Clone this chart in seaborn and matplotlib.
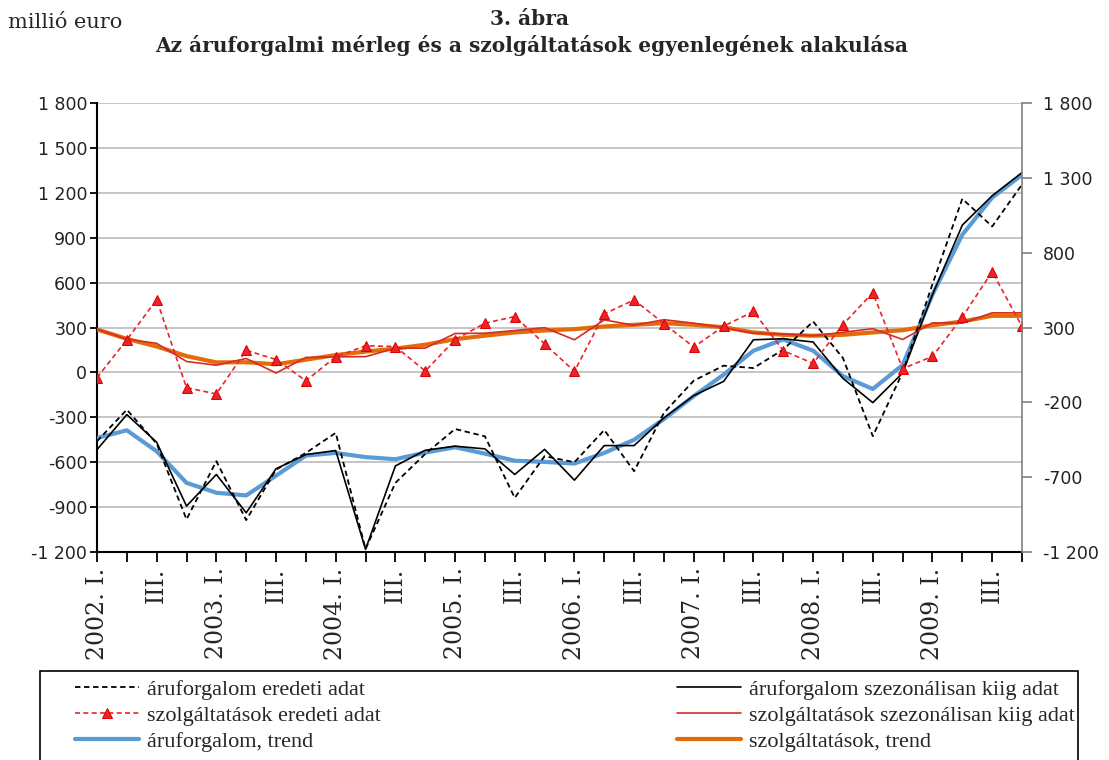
import matplotlib

matplotlib.use("Agg")

import matplotlib.pyplot as plt
import numpy as np
import pandas as pd
import seaborn as sns
from matplotlib.patches import Rectangle

# negyedéves adatok, 2002. I. - 2009. IV.
QUARTERS = [f"{y}. {q}" for y in range(2002, 2010) for q in ("I.", "II.", "III.", "IV.")]
TICK_LABELS = [
    "2002. I.", "", "III.", "", "2003. I.", "", "III.", "", "2004. I.", "", "III.", "",
    "2005. I.", "", "III.", "", "2006. I.", "", "III.", "", "2007. I.", "", "III.", "",
    "2008. I.", "", "III.", "", "2009. I.", "", "III.", "",
]

ARU_EREDETI = [
    -460, -249, -476, -982, -593, -987, -649, -538, -404, -1180, -738, -545,
    -378, -427, -838, -560, -600, -385, -660, -270, -55, 45, 29, 153,
    340, 96, -426, 0, 590, 1160, 975, 1255,
]
ARU_SZEZ = [
    -516, -282, -467, -893, -682, -938, -644, -549, -522, -1182, -625, -520,
    -493, -511, -682, -514, -720, -489, -489, -304, -155, -60, 218, 225,
    203, -40, -202, -4, 520, 984, 1180, 1335,
]
ARU_TREND = [
    -438, -387, -527, -738, -804, -822, -690, -556, -538, -566, -580, -536,
    -500, -543, -590, -598, -609, -538, -450, -312, -158, -15, 145, 220,
    145, -25, -111, 50, 520, 920, 1168, 1320,
]
SZOLG_EREDETI = [
    -35, 218, 486, -102, -144, 148, 86, -56, 104, 178, 173, 9,
    218, 329, 373, 191, 7, 391, 484, 326, 169, 309, 407, 145,
    60, 320, 533, 25, 107, 370, 673, 307,
]
SZOLG_SZEZ = [
    289, 222, 194, 73, 48, 93, -4, 100, 104, 105, 162, 162,
    260, 262, 280, 299, 218, 351, 315, 352, 329, 299, 262, 256,
    245, 268, 292, 220, 331, 329, 398, 398,
]
SZOLG_TREND = [
    287, 224, 173, 109, 67, 68, 54, 85, 116, 139, 159, 185,
    222, 245, 267, 280, 289, 307, 318, 329, 318, 302, 267, 251,
    245, 251, 267, 282, 315, 340, 378, 378,
]

W, H = 1109, 760


def fmt(v):
    return f"{v:,.0f}".replace(",", " ")


df = pd.DataFrame({
    "idx": np.arange(len(QUARTERS)),
    "aru_eredeti": ARU_EREDETI,
    "aru_szez": ARU_SZEZ,
    "aru_trend": ARU_TREND,
    "szolg_eredeti": SZOLG_EREDETI,
    "szolg_szez": SZOLG_SZEZ,
    "szolg_trend": SZOLG_TREND,
})

sns.set_style("white")
plt.rcParams["font.family"] = ["Liberation Serif", "DejaVu Serif"]

fig = plt.figure(figsize=(W / 100, H / 100), dpi=100)
ax = fig.add_axes([97 / W, 1 - 552 / H, 925 / W, 449 / H])

sns.lineplot(data=df, x="idx", y="aru_trend", ax=ax, color="#5b9bd5", lw=3, zorder=3,
             label="áruforgalom, trend")
sns.lineplot(data=df, x="idx", y="szolg_trend", ax=ax, color="#e36c09", lw=3, zorder=3,
             label="szolgáltatások, trend")
sns.lineplot(data=df, x="idx", y="aru_szez", ax=ax, color="black", lw=1.2, zorder=4,
             label="áruforgalom szezonálisan kiig adat")
sns.lineplot(data=df, x="idx", y="szolg_szez", ax=ax, color="#d62b2b", lw=1.2, zorder=4,
             label="szolgáltatások szezonálisan kiig adat")
sns.lineplot(data=df, x="idx", y="aru_eredeti", ax=ax, color="black", lw=1.3, zorder=5,
             linestyle=(0, (3, 2)), label="áruforgalom eredeti adat")
sns.lineplot(data=df, x="idx", y="szolg_eredeti", ax=ax, color="#e8262a", lw=1.2, zorder=5,
             linestyle=(0, (3, 2)), marker="^", markersize=7, markeredgecolor="#e00000",
             label="szolgáltatások eredeti adat")

ax.set_xlim(0, len(QUARTERS) - 1)
ax.set_ylim(-1200, 1800)
yt = np.arange(-1200, 1801, 300)
ax.set_yticks(yt)
ax.set_yticklabels([fmt(v) for v in yt], family="DejaVu Sans", fontsize=12.5, color="#222222")
ax.set_xticks(np.arange(len(QUARTERS)))
ax.set_xticklabels(TICK_LABELS, rotation=90, fontsize=17, va="top", family="DejaVu Serif")
ax.set_xlabel("")
ax.set_ylabel("")
ax.grid(axis="y", color="#c0c0c0", lw=1.3)
ax.grid(axis="x", visible=False)
ax.tick_params(axis="y", direction="out", length=5, width=1.3, color="black", left=True, pad=2)
ax.tick_params(axis="x", direction="out", length=7, width=1.3, color="black", bottom=True, pad=4)
for s in ("top", "right"):
    ax.spines[s].set_visible(False)
ax.spines["left"].set_color("black")
ax.spines["left"].set_linewidth(1.5)
ax.spines["bottom"].set_color("black")
ax.spines["bottom"].set_linewidth(1.5)

ax2 = ax.twinx()
ax2.set_ylim(-1200, 1800)
yt2 = np.arange(-1200, 1801, 500)
ax2.set_yticks(yt2)
ax2.set_yticklabels([fmt(v) for v in yt2], family="DejaVu Sans", fontsize=12.5, color="#222222")
ax2.tick_params(axis="y", direction="out", length=7, width=1.2, color="#808080", right=True, pad=8)
for s in ("top", "left", "bottom"):
    ax2.spines[s].set_visible(False)
ax2.spines["right"].set_color("#808080")
ax2.spines["right"].set_linewidth(1.2)
ax2.grid(False)

handles, labels = ax.get_legend_handles_labels()
ax.get_legend().remove()
order = ["áruforgalom eredeti adat", "szolgáltatások eredeti adat", "áruforgalom, trend",
         "áruforgalom szezonálisan kiig adat", "szolgáltatások szezonálisan kiig adat",
         "szolgáltatások, trend"]
hmap = dict(zip(labels, handles))
fig.legend([hmap[k] for k in order], order, ncol=2, loc="upper left",
           bbox_to_anchor=(75 / W, 0.0, 1000 / W, 1 - 679 / H),
           mode="expand", fontsize=16, frameon=False, handlelength=2.9,
           handletextpad=0.35, borderpad=0, borderaxespad=0, labelspacing=0.25)
fig.patches.append(Rectangle((40 / W, -0.05), 1038 / W, 0.05 + 1 - 671 / H,
                             transform=fig.transFigure, fill=False,
                             edgecolor="black", lw=1.2))

fig.text(8 / W, 1 - 22 / H, "millió euro", fontsize=15, va="center", ha="left",
         family="DejaVu Serif")
fig.text(530 / W, 1 - 19 / H, "3. ábra", fontsize=14.5, fontweight="bold",
         va="center", ha="center", family="DejaVu Serif")
fig.text(532 / W, 1 - 46 / H,
         "Az áruforgalmi mérleg és a szolgáltatások egyenlegének alakulása",
         fontsize=14.5, fontweight="bold", va="center", ha="center", family="DejaVu Serif")

fig.savefig("out.png", dpi=100, facecolor="white")
